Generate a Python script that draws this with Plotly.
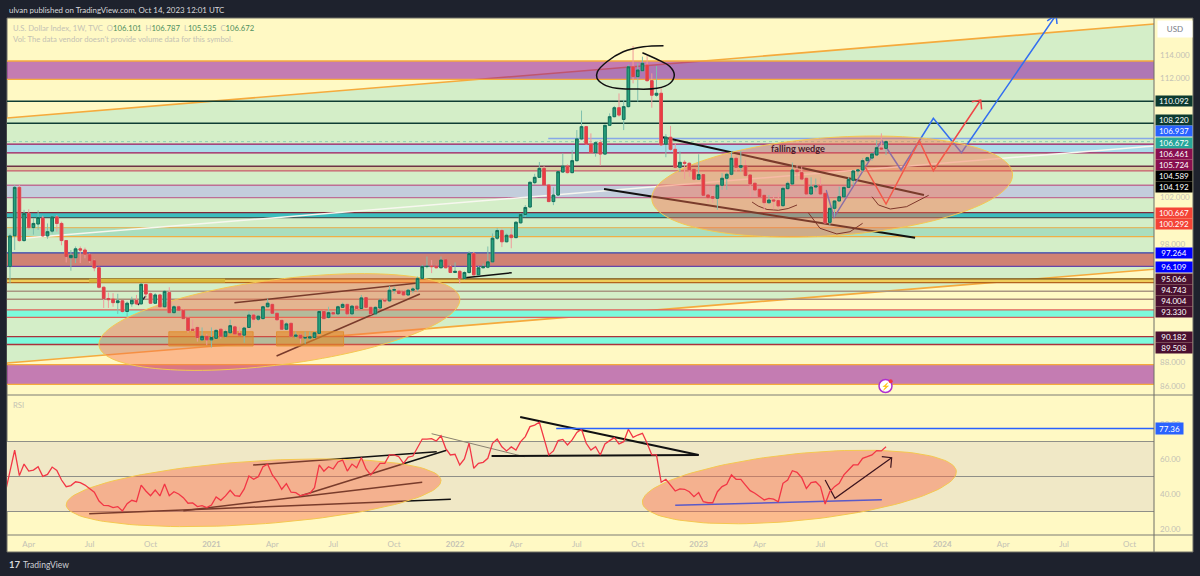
import numpy as np
import pandas as pd
import plotly.graph_objects as go

# weekly DXY bars
first_bar = "2020-03-09"
opens = [96.1, 98.7, 102.8, 98.3, 100.6, 99.4, 99.7, 100.2, 98.7, 99.1,
         100.3, 99.75, 98.3, 96.85, 96.85, 97.6, 97.5, 97.1, 96.6, 96.0,
         94.35, 93.4, 93.35, 93.05, 93.2, 92.3, 92.95, 93.25, 92.95, 94.58,
         93.8, 93.0, 93.7, 92.7, 93.9, 92.2, 92.7, 92.4, 91.75, 90.8,
         90.95, 89.9, 90.2, 89.9, 90.03, 90.8, 90.2, 90.5, 91.0, 90.45,
         90.3, 90.95, 92.0, 91.65, 91.7, 92.7, 92.9, 92.15, 91.55, 90.8,
         91.3, 90.2, 90.3, 90.05, 90.05, 90.1, 90.45, 92.3, 91.8, 92.2,
         92.1, 92.65, 92.9, 92.1, 92.75, 92.55, 93.47, 92.65, 92.1, 92.6,
         93.25, 93.2, 94.1, 94.03, 93.97, 93.7, 94.1, 94.2, 95.1, 96.1,
         96.15, 96.15, 96.0, 96.68, 96.1, 95.6, 95.7, 95.1, 95.6, 97.2,
         95.4, 96.0, 96.05, 96.5, 98.5, 99.15, 98.2, 98.77, 98.55, 99.8,
         100.5, 101.14, 103.2, 103.65, 104.41, 103.0, 101.6, 102.15, 104.1, 104.6,
         104.05, 105.06, 106.9, 107.94, 106.47, 105.74, 106.58, 105.62, 108.05, 108.78,
         109.54, 108.55, 109.63, 113.0, 112.17, 112.67, 113.15, 111.83, 110.6, 110.76,
         106.45, 107.04, 106.02, 104.5, 104.92, 104.84, 104.33, 103.49, 103.88, 102.16,
         102.02, 101.88, 102.98, 103.57, 103.91, 105.26, 104.5, 104.62, 103.85, 103.15,
         102.64, 102.13, 101.5, 101.74, 101.68, 101.25, 102.69, 103.09, 104.27, 104.05,
         103.57, 102.24, 102.83, 102.92, 102.3, 99.84, 101.03, 101.65, 102.0, 102.8,
         103.4, 104.19, 104.27, 105.06, 105.28, 105.54, 106.13, 106.101]
highs = [98.9, 103.0, 103.0, 100.9, 100.95, 100.2, 100.85, 100.4, 99.75, 100.4,
         100.45, 99.9, 98.35, 97.5, 97.8, 97.8, 97.7, 97.2, 96.7, 96.1,
         94.4, 93.9, 93.85, 93.8, 93.25, 93.15, 93.55, 93.7, 94.7, 94.7,
         93.9, 93.85, 93.8, 94.1, 94.35, 92.85, 92.85, 92.5, 92.05, 91.6,
         91.1, 90.95, 90.4, 90.95, 90.8, 90.9, 90.75, 91.6, 91.15, 91.0,
         91.0, 92.3, 92.2, 92.0, 92.78, 93.4, 93.05, 92.2, 91.6, 91.4,
         91.35, 90.6, 90.4, 90.6, 90.6, 90.6, 92.4, 92.4, 92.7, 92.35,
         92.8, 93.05, 93.0, 92.85, 92.85, 93.7, 93.55, 92.7, 92.75, 93.4,
         93.45, 94.45, 94.4, 94.3, 94.1, 94.2, 94.4, 95.25, 96.25, 96.95,
         96.65, 96.25, 96.95, 96.75, 96.25, 96.45, 95.8, 95.7, 97.4, 97.35,
         96.15, 96.35, 97.8, 98.9, 99.35, 99.3, 98.9, 99.4, 99.95, 100.6,
         101.3, 103.3, 103.95, 104.95, 104.6, 103.0, 102.8, 104.13, 105.68, 104.75,
         105.95, 107.65, 109.3, 108.0, 107.37, 106.67, 106.8, 108.08, 109.06, 109.69,
         110.75, 110.2, 113.2, 114.76, 113.3, 113.86, 113.9, 112.45, 113.07, 111.18,
         107.3, 108.0, 106.5, 105.85, 105.1, 104.9, 104.4, 105.6, 103.9, 102.9,
         102.8, 103.0, 104.0, 104.05, 105.83, 105.46, 105.9, 105.12, 103.87, 103.23,
         102.75, 102.15, 102.15, 102.15, 102.36, 102.86, 103.3, 104.9, 104.7, 104.55,
         103.65, 103.65, 103.55, 103.65, 102.58, 101.1, 101.65, 102.86, 102.86, 103.65,
         104.2, 104.33, 105.26, 105.4, 105.68, 106.8, 107.37, 106.787]
lows = [94.7, 97.5, 98.2, 98.2, 99.2, 98.8, 99.2, 98.6, 98.45, 98.9,
        99.05, 97.9, 96.45, 95.75, 96.4, 96.4, 96.8, 96.4, 95.7, 94.25,
        92.6, 92.6, 92.7, 92.1, 92.2, 91.9, 92.7, 92.85, 92.85, 93.4,
        92.95, 92.95, 92.65, 92.65, 92.15, 92.15, 92.3, 91.65, 90.5, 90.6,
        89.75, 89.85, 89.45, 89.25, 90.0, 90.0, 90.1, 90.45, 90.3, 90.25,
        89.65, 90.9, 91.35, 91.5, 91.6, 92.65, 92.1, 91.5, 90.75, 90.73,
        90.1, 90.0, 89.6, 89.55, 89.9, 90.0, 90.4, 91.6, 91.7, 92.0,
        92.0, 92.6, 91.9, 92.0, 92.45, 92.45, 92.6, 92.0, 92.0, 92.5,
        93.0, 93.1, 93.8, 93.7, 93.6, 93.65, 93.85, 94.0, 95.05, 95.95,
        95.55, 95.95, 95.95, 95.95, 95.55, 95.55, 94.65, 95.0, 95.5, 95.35,
        95.4, 95.95, 95.95, 96.45, 98.35, 97.75, 98.15, 97.65, 98.5, 99.75,
        100.3, 101.05, 103.05, 103.6, 102.9, 101.55, 101.3, 102.07, 104.05, 103.98,
        103.98, 104.98, 106.8, 106.4, 105.68, 105.4, 104.65, 105.57, 108.0, 108.73,
        108.78, 107.65, 109.57, 111.6, 110.05, 112.59, 111.74, 109.54, 110.47, 106.3,
        105.35, 105.9, 104.4, 104.1, 103.5, 103.7, 103.37, 103.43, 102.1, 101.5,
        101.5, 100.9, 102.6, 102.6, 103.8, 104.13, 104.13, 103.7, 102.0, 102.1,
        102.0, 100.9, 101.45, 100.95, 100.95, 101.17, 102.63, 103.0, 103.4, 103.37,
        102.0, 102.16, 102.45, 102.07, 99.75, 99.6, 100.32, 101.6, 101.87, 102.72,
        103.0, 103.77, 104.13, 104.97, 105.06, 105.48, 105.96, 105.535]
closes = [98.69, 102.8, 98.3, 100.6, 99.4, 99.75, 100.25, 98.7, 99.05, 100.3,
          99.75, 98.3, 96.95, 97.05, 97.6, 97.5, 97.15, 96.6, 96.0, 94.35,
          93.4, 93.3, 93.05, 93.2, 92.3, 93.0, 93.25, 92.95, 94.6, 93.78,
          93.0, 93.7, 92.7, 94.0, 92.2, 92.7, 92.4, 91.7, 90.7, 90.7,
          90.1, 90.2, 89.9, 90.1, 90.7, 90.2, 90.6, 91.1, 90.4, 90.3,
          90.9, 92.0, 91.65, 91.9, 92.7, 93.0, 92.15, 91.6, 90.8, 91.25,
          90.2, 90.3, 90.05, 90.1, 90.15, 90.5, 92.3, 91.7, 92.2, 92.1,
          92.7, 92.9, 92.1, 92.75, 92.55, 93.45, 92.65, 92.1, 92.65, 93.25,
          93.2, 94.1, 94.15, 93.83, 93.7, 94.1, 94.2, 95.1, 96.1, 96.12,
          96.1, 96.0, 96.65, 96.0, 95.6, 95.7, 95.1, 95.6, 97.2, 95.4,
          96.0, 96.1, 96.5, 98.5, 99.15, 98.2, 98.75, 98.55, 99.85, 100.5,
          101.1, 103.23, 103.65, 104.41, 103.0, 101.6, 102.15, 104.13, 104.6, 104.05,
          105.06, 106.9, 107.94, 106.47, 105.74, 106.58, 105.62, 108.05, 108.78, 109.54,
          108.92, 109.63, 113.0, 112.17, 112.73, 113.3, 111.83, 110.6, 110.76, 106.4,
          107.05, 106.02, 104.5, 104.92, 104.84, 104.28, 103.49, 103.88, 102.13, 101.93,
          101.88, 102.98, 103.57, 103.91, 105.26, 104.5, 104.64, 103.8, 103.09, 102.58,
          102.02, 101.51, 101.73, 101.65, 101.23, 102.72, 103.14, 104.27, 104.13, 103.5,
          102.24, 102.83, 102.92, 102.24, 99.8, 101.03, 101.65, 102.01, 102.8, 103.48,
          104.19, 104.27, 105.06, 105.31, 105.63, 106.16, 106.05, 106.672]

# one extra value in front, for the bar just left of the visible range
rsi_values = [41.0, 53.7, 65.1, 50.5, 57.1, 53.1, 53.7, 55.6, 50.1, 51.2, 55.4,
              53.5, 48.0, 44.2, 44.8, 47.0, 46.5, 45.1, 43.2, 41.0, 36.0,
              33.5, 33.3, 32.2, 32.8, 30.3, 34.5, 36.4, 35.6, 45.1, 41.7,
              39.0, 42.3, 38.9, 45.7, 39.0, 41.3, 40.0, 37.9, 34.7, 34.9,
              32.8, 33.3, 32.2, 33.7, 38.3, 36.4, 38.9, 42.1, 39.0, 38.7,
              42.9, 50.3, 48.4, 49.9, 55.6, 57.0, 50.9, 47.4, 42.7, 45.9,
              41.0, 40.8, 39.0, 39.8, 40.4, 43.6, 56.6, 53.0, 55.6, 54.3,
              58.3, 59.4, 53.1, 57.1, 55.0, 60.8, 54.3, 50.9, 54.3, 57.5,
              57.5, 62.3, 62.3, 61.3, 57.5, 61.1, 61.7, 66.5, 71.4, 71.4,
              71.6, 70.3, 73.3, 66.1, 62.3, 62.7, 56.6, 60.0, 69.0, 54.7,
              57.5, 58.1, 60.4, 69.0, 71.4,
              67.0, 64.6, 66.9, 65.1, 69.9, 72.8, 78.5, 79.4, 81.0, 71.8,
              62.3, 64.6, 70.5, 71.2, 68.0, 70.9, 75.2, 77.0, 69.0, 65.1,
              67.0, 62.3, 68.6, 70.5, 72.2, 68.6, 69.9, 77.0, 72.4, 73.7,
              74.7, 69.0, 62.3, 62.3, 46.7, 48.4, 45.1, 41.7, 42.9, 42.7,
              41.3, 38.5, 40.8, 35.6, 35.0, 35.0, 41.3, 44.2, 45.5, 50.9,
              48.4, 48.4, 45.1, 41.9, 40.4, 38.5, 36.6, 37.5, 37.1, 35.6,
              46.1, 48.0, 53.3, 52.4, 49.3, 43.2, 46.5, 47.0, 44.2, 34.3,
              41.3, 44.2, 46.1, 50.9, 53.7, 56.6, 56.6, 60.4, 61.3, 62.3,
              64.8, 64.6, 67.0]

time_tick_dates = ["2020-04-06", "2020-07-06", "2020-10-05", "2021-01-04", "2021-04-05",
                   "2021-07-05", "2021-10-04", "2022-01-03", "2022-04-04", "2022-07-04",
                   "2022-10-03", "2023-01-02", "2023-04-03", "2023-07-03", "2023-10-02",
                   "2024-01-01", "2024-04-01", "2024-07-01", "2024-10-07"]
time_tick_text = ["Apr", "Jul", "Oct", "<b>2021</b>", "Apr", "Jul", "Oct", "<b>2022</b>", "Apr", "Jul",
                  "Oct", "<b>2023</b>", "Apr", "Jul", "Oct", "<b>2024</b>", "Apr", "Jul", "Oct"]
price_ticks = [86, 88, 98, 102, 112, 114]
rsi_ticks = [20, 40, 60, 80]

# zones on the price pane: top, bottom, fill, top line, bottom line
zone_tops = [113.49, 106.461, 104.589, 102.98, 100.667, 99.39, 97.264, 95.066, 92.43, 90.182, 87.8]
zone_bottoms = [111.94, 105.724, 104.192, 101.93, 100.24, 98.63, 96.109, 94.743, 91.8, 89.508, 86.14]
zone_fills = ["rgba(137,0,160,0.5)", "#aadcea", "#d7cda0", "#c3cddc", "#3cbebe", "#aadebe",
              "#d08273", "#eecd5a", "#7dfadc", "#7dfadc", "rgba(137,0,160,0.5)"]
zone_top_lines = ["#f5aa3c", "#a0155a", "#6e3246", "#be6e96", "#82283a", "#e1b964",
                  "#3246b4", "#785014", "#e15f5a", "#aa323c", "#f5aa3c"]
zone_bottom_lines = ["#f5aa3c", "#a0155a", "#c85a6e", "#be6e96", "#465a5a", "#f0af46",
                     "#6446aa", "#b4641e", "#e15f5a", "#aa323c", "#f5aa3c"]

level_values = [110.092, 108.22, 94.004, 93.33]
level_colors = ["#0f3d34", "#0f3d34", "#aa9682", "#aa8c78"]

label_text = ["110.092", "108.220", "106.937", "106.672", "106.461", "105.724", "104.589", "104.192",
              "100.667", "100.292", "97.264", "96.109", "95.066", "94.743", "94.004", "93.330",
              "90.182", "89.508"]
label_colors = ["#0c3a30", "#0c3a30", "#2962ff", "#26a69a", "#880e4f", "#880e4f", "#000000", "#000000",
                "#f44336", "#f44336", "#0000ff", "#0000ff", "#4a1030", "#4a1030", "#4a1030", "#4a1030",
                "#4a1030", "#4a1030"]
label_rows = [101, 120, 131, 142.5, 153.5, 164.7, 175.7, 186.5, 212.7, 224, 253, 267, 279, 290, 301, 312, 337, 348]

# hand drawn tools, anchored as (bar number, price)
channel_bars = [-0.64, 244.2]
channel_upper = [108.67, 116.62]
channel_lower = [87.94, 95.87]
white_line = ([2.56, 244.2], [98.49, 106.3])
wedge_top = ([139.4, 195.1], [107.04, 102.16])
wedge_bottom = ([126.8, 193.2], [102.66, 98.54])
left_upper = ([47.9, 87.1], [93.04, 94.71])
left_lower = ([56.9, 87.5], [88.53, 93.78])
left_tick = ([27.3, 29.0], [92.85, 93.61])
left_short = ([97.1, 107.1], [95.16, 95.58])
top_scribble = ([139.5, 135.2, 130.9, 127.4, 125.4, 125.3, 126.7, 129.5, 133.1, 138.1, 140.9, 141.8, 140.9, 138.1, 135.0],
                [114.79, 114.7, 114.28, 113.43, 112.59, 112.03, 111.52, 111.18, 111.12, 111.18, 111.61, 112.31, 113.01, 113.64, 114.19])
arc_a = ([158.4, 159.7, 161.6, 164.0, 166.1, 168.0], [101.56, 101.22, 100.93, 100.86, 101.01, 101.31])
arc_b = ([170.4, 172.9, 176.5, 179.3, 182.0], [100.66, 99.34, 98.86, 99.05, 99.76])
arc_c = ([184.0, 185.4, 187.9, 191.4, 196.1], [102.01, 101.31, 100.97, 101.17, 102.13])
red_path = ([182.5, 187.0, 194.1, 197.1, 207.2], [104.55, 101.39, 106.75, 104.21, 110.19])
red_head = ([205.3, 207.2, 207.4], [110.05, 110.19, 109.4])
blue_path = ([174.2, 175.9, 186.1, 190.2, 197.1, 203.1, 223.3], [102.58, 100.27, 106.75, 104.27, 108.64, 105.73, 117.38])
blue_head = ([221.4, 223.3, 223.5], [116.88, 117.38, 116.62])
boxes_bars = [(33.9, 51.9), (56.9, 71.2)]
boxes_prices = (90.59, 89.38)
gold_bars = (16.9, 45.9)

rsi_lines = [([16.9, 94.1], [28.74, 36.97], "#111111", 1.5),
             ([37.0, 88.0], [30.46, 46.69], "#111111", 1.5),
             ([61.9, 93.2], [38.86, 64.97], "#111111", 1.5),
             ([51.9, 91.1], [56.57, 64.17], "#111111", 1.5),
             ([90.0, 109.8], [74.46, 61.31], "#8a8270", 1),
             ([102.8, 147.0], [61.71, 62.29], "#111111", 2),
             ([108.9, 147.0], [84.0, 62.29], "#111111", 2)]
rsi_support = ([142.0, 186.1], [33.54, 36.74])
rsi_arrow = ([174.0, 176.1, 188.2], [48.0, 37.54, 60.74])
rsi_head = ([186.1, 188.2, 188.0], [61.31, 60.74, 55.03])
rsi_level = 77.36

# ellipses: centre, first half axis, second half axis, each (bars, value)
ellipse_price_left = ((57.5, 91.41), (38.5, 2.0), (1.2, -3.57))
ellipse_price_right = ((175.5, 102.87), (38.5, 1.07), (0.73, -4.14))
ellipse_rsi_left = ((52.0, 40.7), (40.0, 7.1), (0.45, -18.0))
ellipse_rsi_right = ((168.5, 44.0), (33.5, 9.0), (0.7, -19.0))

W, H = 1200, 576
PANE_L, PANE_R, FRAME_R = 7, 1154, 1193
PANE_T, SPLIT, PANE_B, FRAME_B = 18, 395, 535, 552
FONT = "Lato"
GREY = "#c4c2b4"
ORANGE = "#f5aa3c"
RED = "#f23645"
ELL_FILL = "rgba(248,110,76,0.45)"
ELL_LINE = "#f5c850"


def bar_date(i):
    return pd.Timestamp(first_bar) + pd.to_timedelta(7 * np.asarray(i, dtype=float), unit="D")


def px(x):
    return x / W


def py(y):
    return 1 - y / H


def dates(bars):
    return [d.strftime("%Y-%m-%d %H:%M") for d in bar_date(bars)]


def ellipse_points(params):
    (cx, cy), (ux, uy), (vx, vy) = params
    t = np.linspace(0, 2 * np.pi, 121)
    return cx + ux * np.cos(t) + vx * np.sin(t), cy + uy * np.cos(t) + vy * np.sin(t)


week_dates = pd.date_range(first_bar, periods=len(opens), freq="7D")
rsi_dates = pd.date_range(pd.Timestamp(first_bar) - pd.Timedelta(days=7), periods=len(rsi_values), freq="7D")
body_top = np.maximum(opens, closes)
body_bottom = np.minimum(opens, closes)

fig = go.Figure()


def add_line(bars, values, color, width, yaxis="y", xaxis="x", shape="linear", dash="solid"):
    fig.add_trace(go.Scatter(x=dates(bars), y=values, mode="lines", xaxis=xaxis, yaxis=yaxis,
                             line=dict(color=color, width=width, shape=shape, dash=dash),
                             hoverinfo="skip", showlegend=False))


def add_ellipse(params, yaxis="y", xaxis="x"):
    xs, ys = ellipse_points(params)
    fig.add_trace(go.Scatter(x=dates(xs), y=ys, mode="lines", fill="toself", fillcolor=ELL_FILL, xaxis=xaxis, yaxis=yaxis,
                             line=dict(color=ELL_LINE, width=1), hoverinfo="skip", showlegend=False))


# wicks are paler than the bodies, so they get their own trace
fig.add_trace(go.Candlestick(x=week_dates, open=opens, high=highs, low=lows, close=closes,
                             whiskerwidth=0, showlegend=False,
                             increasing=dict(line=dict(color="#7fbfae", width=1), fillcolor="#7fbfae"),
                             decreasing=dict(line=dict(color="#f09a9a", width=1), fillcolor="#f09a9a")))
fig.add_trace(go.Candlestick(x=week_dates, open=opens, high=body_top, low=body_bottom, close=closes,
                             whiskerwidth=0, showlegend=False,
                             increasing=dict(line=dict(color="#14705a", width=1), fillcolor="#26a07c"),
                             decreasing=dict(line=dict(color="#d84a50", width=1), fillcolor="#ee3a40")))
add_line(*top_scribble, "#111111", 1.5, shape="spline")

for bars, vals, col, w in rsi_lines:
    add_line(bars, vals, col, w, yaxis="y2", xaxis="x2")
add_ellipse(ellipse_rsi_left, yaxis="y2", xaxis="x2")
add_ellipse(ellipse_rsi_right, yaxis="y2", xaxis="x2")
add_line(*rsi_support, "#5a5ac8", 1.5, yaxis="y2", xaxis="x2")
add_line(*rsi_arrow, "#3c141e", 1.2, yaxis="y2", xaxis="x2")
add_line(*rsi_head, "#3c141e", 1.2, yaxis="y2", xaxis="x2")
fig.add_trace(go.Scatter(x=rsi_dates, y=rsi_values, mode="lines", xaxis="x2", yaxis="y2",
                         line=dict(color=RED, width=1.3), hoverinfo="skip", showlegend=False))

shapes = []
# panel behind both panes
shapes.append(dict(type="rect", xref="paper", yref="paper", x0=px(PANE_L), x1=px(FRAME_R), y0=py(FRAME_B), y1=py(PANE_T),
                   fillcolor="#fff9c4", line=dict(color="#6f6f66", width=1), layer="below"))

left_x, right_x = dates(channel_bars)
shapes.append(dict(type="path", xref="x", yref="y", layer="below", fillcolor="#d4eec8", line=dict(width=0),
                   path="M {0} {2} L {1} {3} L {1} {5} L {0} {4} Z".format(left_x.replace(" ", "_"), right_x.replace(" ", "_"),
                                                                         channel_upper[0], channel_upper[1],
                                                                         channel_lower[0], channel_lower[1])))
for edge in (channel_upper, channel_lower):
    shapes.append(dict(type="line", xref="x", yref="y", layer="below", x0=left_x, x1=right_x,
                       y0=edge[0], y1=edge[1], line=dict(color=ORANGE, width=1.6)))


def price_hline(val, col, width, dash="solid", start=None):
    shapes.append(dict(type="line", xref="x", yref="y", x0=start or left_x, x1=right_x, y0=val, y1=val,
                       line=dict(color=col, width=width, dash=dash), layer="below"))


# scatter always paints over candles, so whatever sits under them has to be a shape
def tool_path(bars, values, color, width, fill=None):
    stamps = [d.replace(" ", "_") for d in dates(bars)]
    path = "M " + " L ".join("%s %.3f" % (d, v) for d, v in zip(stamps, values))
    if fill:
        path += " Z"
    shapes.append(dict(type="path", xref="x", yref="y", layer="below", path=path,
                       fillcolor=fill or "rgba(0,0,0,0)", line=dict(color=color, width=width)))


for top, bottom, fill, tl, bl in zip(zone_tops, zone_bottoms, zone_fills, zone_top_lines, zone_bottom_lines):
    shapes.append(dict(type="rect", xref="x", yref="y", x0=left_x, x1=right_x, y0=bottom, y1=top,
                       fillcolor=fill, line=dict(width=0), layer="below"))
    price_hline(top, tl, 1.3)
    price_hline(bottom, bl, 1.3)

for val, col in zip(level_values, level_colors):
    price_hline(val, col, 1.5)

gold_x = dates(gold_bars)
shapes.append(dict(type="rect", xref="x", yref="y", x0=gold_x[0], x1=gold_x[1], y0=zone_bottoms[7], y1=zone_tops[7],
                   fillcolor="#d7b93c", line=dict(width=0), layer="below"))
price_hline(106.672, "#8fd0b4", 1, dash="dot")
price_hline(106.937, "#86a8e8", 1.5, start=dates([114.9])[0])

tool_path(*white_line, "#f7f7ef", 1.5)
tool_path(*wedge_top, "#111111", 2)
tool_path(*wedge_bottom, "#111111", 2)
tool_path(*left_upper, "#111111", 1.5)
tool_path(*left_lower, "#111111", 1.5)
tool_path(*left_tick, "#222233", 1.5)
tool_path(*left_short, "#111111", 1.5)
for arc in (arc_a, arc_b, arc_c):
    tool_path(*arc, "#1a0a10", 1)
tool_path(*blue_path, "#326ef0", 1.5)
tool_path(*blue_head, "#326ef0", 1.5)
tool_path(*red_path, "#f04646", 1.5)
tool_path(*red_head, "#f04646", 1.5)
tool_path(*ellipse_points(ellipse_price_left), ELL_LINE, 1, fill=ELL_FILL)
tool_path(*ellipse_points(ellipse_price_right), ELL_LINE, 1, fill=ELL_FILL)

for a, b in boxes_bars:
    box_x = dates([a, b])
    shapes.append(dict(type="rect", xref="x", yref="y", x0=box_x[0], x1=box_x[1], y0=boxes_prices[1], y1=boxes_prices[0],
                       fillcolor="rgba(225,140,40,0.6)", line=dict(color="rgba(225,140,40,0.8)", width=1), layer="below"))

# RSI band
shapes.append(dict(type="rect", xref="x2 domain", yref="y2", x0=0, x1=1, y0=30, y1=70,
                   fillcolor="#f0e8c6", line=dict(width=0), layer="below"))
for val in (70, 50, 30):
    shapes.append(dict(type="line", xref="x2 domain", yref="y2", x0=0, x1=1, y0=val, y1=val,
                       line=dict(color="#8f8f88", width=1.2), layer="below"))
shapes.append(dict(type="line", xref="x2", yref="y2", x0=dates([116.6])[0], x1=right_x, y0=rsi_level, y1=rsi_level,
                   line=dict(color="#2962ff", width=1.5), layer="above"))

# pane separators and scale edge
for y in (SPLIT, PANE_B):
    shapes.append(dict(type="line", xref="paper", yref="paper", x0=px(PANE_L), x1=px(FRAME_R), y0=py(y), y1=py(y),
                       line=dict(color="#7d7d74", width=1.2), layer="above"))
shapes.append(dict(type="line", xref="paper", yref="paper", x0=px(PANE_R), x1=px(PANE_R), y0=py(FRAME_B), y1=py(PANE_T),
                   line=dict(color="#6f6f66", width=1), layer="above"))

# the little flash badge
shapes.append(dict(type="circle", xref="paper", yref="paper", x0=px(879), x1=px(892), y0=py(392.5), y1=py(379.5),
                   fillcolor="#ffffff", line=dict(color="#b02fd0", width=1.5), layer="above"))
shapes.append(dict(type="circle", xref="paper", yref="paper", x0=px(888.7), x1=px(892.7), y0=py(383.3), y1=py(379.3),
                   fillcolor="#f23645", line=dict(width=0), layer="above"))

annotations = []


def note(text, x, y, size=8, color=GREY, anchor="left", **kw):
    annotations.append(dict(text=text, xref="paper", yref="paper", x=px(x), y=py(y), xanchor=anchor, yanchor="middle",
                            showarrow=False, font=dict(family=FONT, size=size, color=color), **kw))


note("ulvan published on TradingView.com, Oct 14, 2023 12:01 UTC", 7, 9.5, size=7.9, color="#d8d9dc")
val = '<span style="color:#4f8f5e">%s</span>'
note("U.S. Dollar Index, 1W, TVC  O" + val % "106.101" + "  H" + val % "106.787" + "  L" + val % "105.535" + "  C" + val % "106.672",
     11, 27.5, size=7.7)
note("Vol: The data vendor doesn't provide volume data for this symbol.", 11, 38.5, size=7.7)
note("RSI", 11, 404.5, size=7.7)
note("TradingView", 21, 564.5, size=8.5, color="#cfd1d6")
note("<b>17</b>", 7, 564.5, size=9.5, color="#d8d9dc")
note("<b>falling wedge</b>", 769, 148, size=9.2, color="#4a1a28")
note("⚡", 885.5, 386, size=7.5, color="#b02fd0", anchor="center")

for text, col, row in zip(label_text, label_colors, label_rows):
    annotations.append(dict(text=text, xref="paper", yref="paper", x=px(PANE_R + 0.5), y=py(row), xanchor="left", yanchor="middle",
                            width=36, height=10, align="center", bgcolor=col, borderpad=0, showarrow=False,
                            font=dict(family=FONT, size=8, color="#ffffff")))
annotations.append(dict(text="77.36", xref="paper", yref="paper", x=px(PANE_R + 0.5), y=py(428.5), xanchor="left", yanchor="middle",
                        width=27, height=11, align="center", bgcolor="#2962ff", borderpad=0, showarrow=False,
                        font=dict(family=FONT, size=8, color="#ffffff")))
annotations.append(dict(text="USD", xref="paper", yref="paper", x=px(1157), y=py(28.7), xanchor="left", yanchor="middle",
                        width=34, height=16, align="center", bgcolor="#ffffff", borderpad=0, showarrow=False,
                        font=dict(family=FONT, size=8, color="#787b86")))

x_range = [bar_date(-0.64).strftime("%Y-%m-%d %H:%M"), bar_date(244.2).strftime("%Y-%m-%d %H:%M")]
fig.update_layout(
    width=W, height=H, margin=dict(l=0, r=0, t=0, b=0), autosize=False, boxgap=0.2,
    paper_bgcolor="#1e222d", plot_bgcolor="rgba(0,0,0,0)", showlegend=False,
    xaxis=dict(domain=[px(PANE_L), px(PANE_R)], range=x_range, type="date", showgrid=False, zeroline=False,
               showticklabels=False, rangeslider=dict(visible=False), anchor="y"),
    yaxis=dict(domain=[py(SPLIT), py(PANE_T)], range=[85.235, 117.13], side="right", anchor="x",
               tickvals=price_ticks, ticktext=["%.3f" % v for v in price_ticks], ticks="", showgrid=False, zeroline=False,
               tickfont=dict(family=FONT, size=8, color=GREY), ticklabelstandoff=5),
    xaxis2=dict(domain=[px(PANE_L), px(PANE_R)], range=x_range, type="date", showgrid=False, zeroline=False,
                tickvals=time_tick_dates, ticktext=time_tick_text, ticks="", anchor="y2",
                tickfont=dict(family=FONT, size=8, color=GREY), ticklabelstandoff=3),
    yaxis2=dict(domain=[py(PANE_B), py(SPLIT)], range=[16.57, 96.57], side="right", anchor="x2",
                tickvals=rsi_ticks, ticktext=["%.2f" % v for v in rsi_ticks], ticks="", showgrid=False, zeroline=False,
                tickfont=dict(family=FONT, size=8, color=GREY), ticklabelstandoff=5),
    shapes=shapes, annotations=annotations,
)

fig.write_html("out.html", config={"displayModeBar": False},
               post_script="document.body.style.margin='0';document.body.style.overflow='hidden';")
